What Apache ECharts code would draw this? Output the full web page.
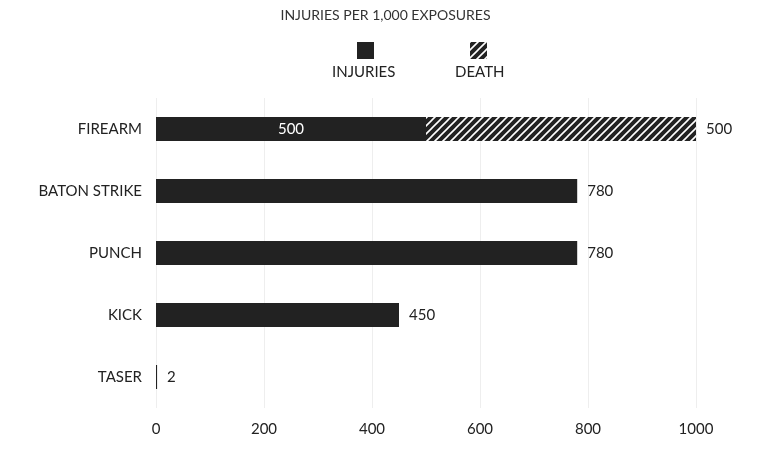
<!DOCTYPE html>
<html>
<head>
<meta charset="utf-8">
<title>Injuries</title>
<script src="https://cdn.jsdelivr.net/npm/echarts@6/dist/echarts.min.js"></script>
<style>html, body { margin:0; height:100%; background:#fff; }</style>
</head>
<body>
<div id="main" style="width:771px;height:458px;"></div>
<script>
var categories = ['FIREARM', 'BATON STRIKE', 'PUNCH', 'KICK', 'TASER'];
var injuries = [500, 780, 780, 450, 2];
var death = [500, 0, 0, 0, 0];
var xTicks = [0, 200, 400, 600, 800, 1000];

// diagonal hatch pattern
function hatch() {
    var c = document.createElement('canvas');
    c.width = 8; c.height = 8;
    var g = c.getContext('2d');
    g.fillStyle = '#222'; g.fillRect(0, 0, 8, 8);
    g.strokeStyle = '#fff'; g.lineWidth = 1.6;
    g.beginPath();
    g.moveTo(-2, 10); g.lineTo(10, -2);
    g.moveTo(-2, 2); g.lineTo(2, -2);
    g.moveTo(6, 10); g.lineTo(10, 6);
    g.stroke();
    return c;
}
var pat = { image: hatch(), repeat: 'repeat' };
var dark = '#222';
var font = 'Lato';

var myChart = echarts.init(document.getElementById('main'));

var injData = injuries.map(function (v, i) {
    var inside = death[i] > 0;
    return {
        value: v,
        label: {
            show: true,
            position: inside ? 'inside' : 'right',
            color: inside ? '#fff' : dark,
            distance: 10
        }
    };
});
var deathData = death.map(function (v) {
    return { value: v, label: { show: v > 0 } };
});

var option = {
    textStyle: { fontFamily: font },
    title: {
        text: 'INJURIES PER 1,000 EXPOSURES',
        left: 'center', top: 3,
        textStyle: { fontSize: 14, fontWeight: 'normal', color: '#333', fontFamily: font }
    },
    graphic: [
        { type: 'rect', left: 357, top: 42, shape: { width: 17, height: 17 }, style: { fill: dark } },
        { type: 'text', left: 332, top: 65, style: { text: 'INJURIES', fill: dark, font: '15px Lato' } },
        { type: 'rect', left: 470, top: 42, shape: { width: 17, height: 17 }, style: { fill: pat } },
        { type: 'text', left: 455, top: 65, style: { text: 'DEATH', fill: dark, font: '15px Lato' } }
    ],
    grid: { left: 156, right: 75, top: 98, bottom: 50 },
    xAxis: {
        type: 'value', min: 0, max: 1000, interval: 200,
        axisLine: { show: false }, axisTick: { show: false },
        splitLine: { lineStyle: { color: '#eee' } },
        axisLabel: { fontSize: 15, color: dark, margin: 14,
            formatter: function (v) { return xTicks.indexOf(v) >= 0 ? String(v) : ''; } }
    },
    yAxis: {
        type: 'category', data: categories, inverse: true,
        axisLine: { show: false }, axisTick: { show: false },
        axisLabel: { fontSize: 15, color: dark, margin: 14 }
    },
    series: [
        {
            name: 'INJURIES', type: 'bar', stack: 'a', barWidth: 24,
            itemStyle: { color: dark },
            label: { fontSize: 15, fontFamily: font },
            data: injData
        },
        {
            name: 'DEATH', type: 'bar', stack: 'a', barWidth: 24,
            itemStyle: { color: pat, borderColor: '#fff', borderWidth: 0 },
            label: { position: 'right', distance: 10, color: dark, fontSize: 15, fontFamily: font },
            data: deathData
        }
    ]
};
myChart.setOption(option);
</script>
</body>
</html>
